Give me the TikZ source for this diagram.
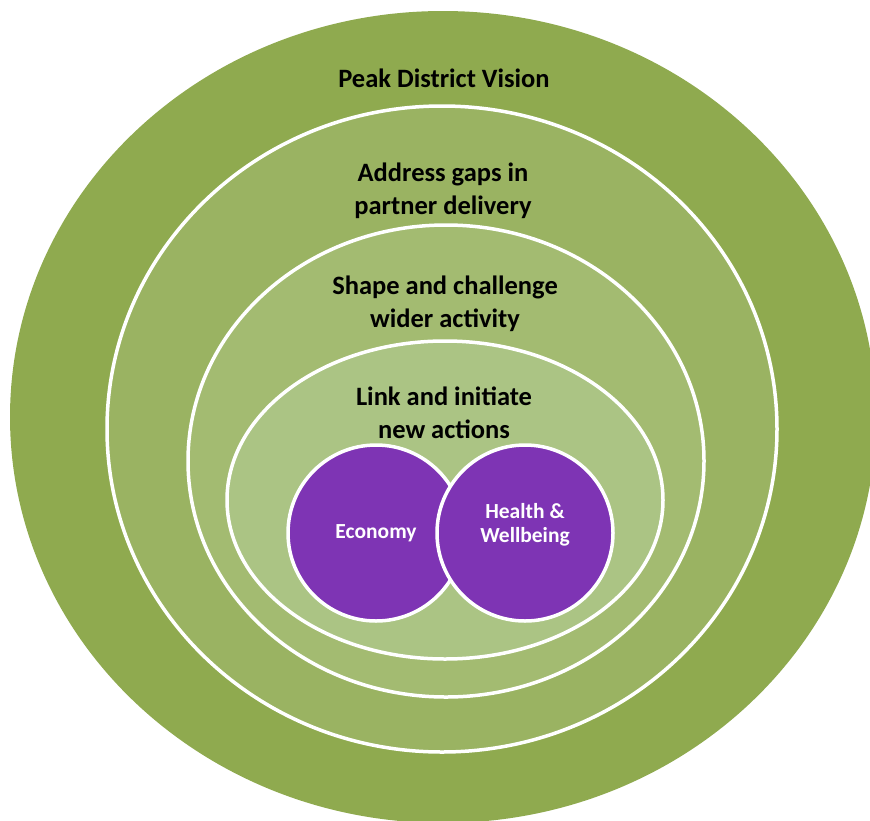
\documentclass[tikz,border=0pt]{standalone}
\usepackage{fontspec}
\setmainfont{Carlito}
\usetikzlibrary{shapes.geometric}
\definecolor{ringa}{HTML}{8FAA4F}
\definecolor{ringb}{HTML}{9AB362}
\definecolor{ringc}{HTML}{A3BB71}
\definecolor{ringd}{HTML}{ABC484}
\definecolor{discfill}{HTML}{7E34B4}
\begin{document}
\begin{tikzpicture}[x=1pt,y=-1pt,
ring/.style={ellipse, draw=white, line width=3.5pt, inner sep=0pt},
ringtext/.style={font=\bfseries\fontsize{26.5}{33}\selectfont, align=center, text=black},
disc/.style={circle, draw=white, line width=3.5pt, fill=discfill, minimum size=176pt,
    inner sep=0pt, text=white, align=center, font=\bfseries\fontsize{21.5}{24}\selectfont}]
\useasboundingbox (0,0) rectangle (870,820);
\clip (0,0) rectangle (870,820);
% nested rings
\node[ring, draw=none, fill=ringa, minimum width=866pt, minimum height=812pt] (vision) at (443,417) {};
\node[ring, fill=ringb, minimum width=670pt, minimum height=646pt] (gaps) at (442,429) {};
\node[ring, fill=ringc, minimum width=516pt, minimum height=472pt] (shape) at (446,461) {};
\node[ring, fill=ringd, minimum width=436pt, minimum height=318pt] (link) at (445,500) {};
% ring texts
\node[ringtext] (visiontext) at (444,78) {Peak District Vision};
\node[ringtext] (gapstext) at (443,191) {Address gaps in\\partner delivery};
\node[ringtext] (shapetext) at (445,304) {Shape and challenge\\wider activity};
\node[ringtext] (linktext) at (444,413) {Link and initiate\\new actions};
% focus areas
\node[disc] (economy) at (376,533) {Economy};
\node[disc] (health) at (525,533) {};
\node[text=white, align=center, font=\bfseries\fontsize{21.5}{24}\selectfont] (healthtext) at (525,525) {Health \&\\Wellbeing};
\end{tikzpicture}
\end{document}
